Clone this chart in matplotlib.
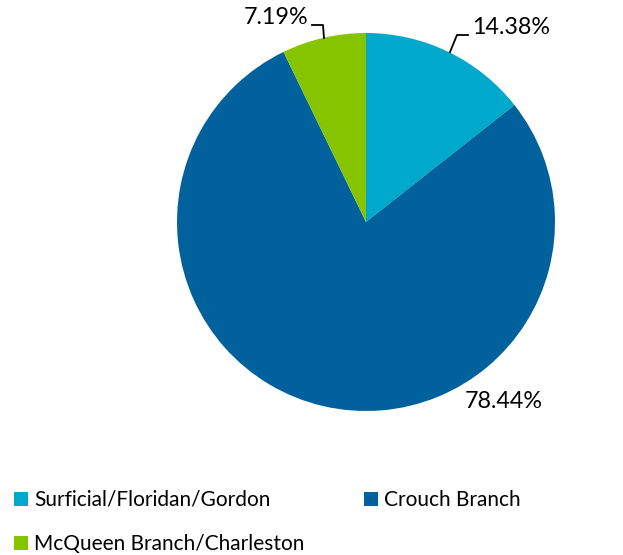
import matplotlib.pyplot as plt
from matplotlib.patches import Patch

labels = ['Surficial/Floridan/Gordon', 'Crouch Branch', 'McQueen Branch/Charleston']
shares = [14.38, 78.44, 7.19]
colors = ['#00A8CC', '#00619C', '#86C400']

plt.rcParams['font.family'] = ['Lato', 'DejaVu Sans']

W, H = 623, 555
fig = plt.figure(figsize=(W / 100, H / 100), dpi=100)
ax = fig.add_axes([0, 0, 1, 1])

cx, cy, r = 366, H - 222, 189
wedges, _ = ax.pie(shares, colors=colors, startangle=90, counterclock=False,
                   center=(cx, cy), radius=r, frame=True,
                   wedgeprops=dict(linewidth=0))
ax.set_xlim(0, W)
ax.set_ylim(0, H)
ax.axis('off')

fs = 16.8
# value labels with leader lines
ax.plot([450, 457, 468], [H - 52, H - 35, H - 35], color='black', lw=1.3)
ax.text(472, H - 28, f'{shares[0]:.2f}%', fontsize=fs, va='center', ha='left')

ax.plot([312, 323, 324], [H - 25, H - 25, H - 38], color='black', lw=1.3)
ax.text(308, H - 17, f'{shares[2]:.2f}%', fontsize=fs, va='center', ha='right')

ax.text(504, H - 402, f'{shares[1]:.2f}%', fontsize=fs, va='center', ha='center')

order = [0, 2, 1]
handles = [Patch(facecolor=colors[i], edgecolor='none') for i in order]
ax.legend(handles, [labels[i] for i in order], ncol=2, frameon=False,
          fontsize=15, loc='upper left', bbox_to_anchor=(14 / W, 1 - 490 / H),
          bbox_transform=fig.transFigure, handlelength=0.66, handleheight=0.66,
          handletextpad=0.3, columnspacing=2.85, labelspacing=1.15,
          borderaxespad=0, borderpad=0)

fig.savefig('out.png', dpi=100)
